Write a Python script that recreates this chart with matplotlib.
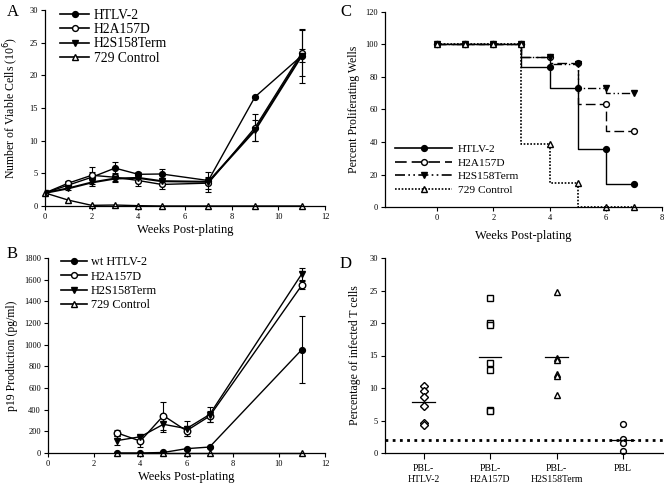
import matplotlib
matplotlib.use("Agg")
import matplotlib.pyplot as plt
from matplotlib.lines import Line2D
import numpy as np

plt.rcParams['font.family'] = ['Liberation Serif', 'DejaVu Serif']

# ---------------- Panel A data ----------------
weeks_a = [0, 1, 2, 3, 4, 5, 7, 9, 11]
a_htlv2 = [2.0, 3.2, 4.4, 5.8, 4.85, 4.9, 3.9, 16.7, 23.0]
a_htlv2_err = [0, 0.3, 0.8, 0.9, 0.4, 0.7, 0.4, 0.2, 4.1]
a_h2a = [2.0, 3.5, 4.7, 4.4, 3.9, 3.3, 3.5, 12.0, 23.4]
a_h2a_err = [0, 0.3, 1.3, 0.6, 0.9, 0.7, 0.9, 2.1, 3.5]
a_h2s = [2.0, 2.7, 3.6, 4.2, 4.3, 3.8, 3.7, 11.6, 23.0]
a_h2s_err = [0, 0.3, 0.5, 0.6, 0.5, 0.5, 1.5, 1.6, 1.0]
a_ctrl = [2.0, 0.9, 0.1, 0.15, 0.05, 0.0, 0.0, 0.0, 0.0]

# ---------------- Panel B data ----------------
weeks_b = [3, 4, 5, 6, 7, 11]
b_htlv2 = [0, 0, 5, 40, 55, 955]
b_htlv2_err = [0, 0, 5, 10, 10, 310]
b_h2a = [185, 110, 345, 205, 340, 1550]
b_h2a_err = [25, 50, 130, 45, 50, 40]
b_h2s = [115, 150, 265, 225, 355, 1655]
b_h2s_err = [40, 20, 70, 70, 70, 55]
b_ctrl = [0, 0, 0, 0, 0, 0]

# ---------------- Panel C data ----------------
weeks_c = [0, 1, 2, 3, 4, 5, 6, 7]
c_htlv2 = [100, 100, 100, 100, 86, 73, 36, 14]
c_h2a = [100, 100, 100, 100, 92.6, 88.5, 63.5, 47]
c_h2s = [100, 100, 100, 100, 92, 88, 73.5, 70]
c_ctrl = [100, 100, 100, 100, 39, 14.7, 0, 0]

# ---------------- Panel D data ----------------
d_categories = ["PBL-\nHTLV-2", "PBL-\nH2A157D", "PBL-\nH2S158Term", "PBL"]
d_htlv2 = [10.3, 9.5, 8.6, 7.2, 4.6, 4.3]
d_h2a = [23.9, 20.05, 19.7, 13.9, 12.7, 6.6, 6.4]
d_h2s = [24.7, 14.6, 14.3, 12.2, 11.8, 9.0]
d_pbl = [4.4, 2.2, 1.6, 0.3]
d_means = [7.9, 14.8, 14.7, 2.0]
d_cutoff = 2.0

fig = plt.figure(figsize=(6.64, 4.84), dpi=100)
W, H = 664, 484

def add_ax(l, r, t, b):
    return fig.add_axes([l / W, 1 - b / H, (r - l) / W, (b - t) / H])

def style(ax):
    for s in ['top', 'right']:
        ax.spines[s].set_visible(False)
    ax.tick_params(direction='out', length=3, width=0.8, labelsize=6, pad=2)
    for s in ['left', 'bottom']:
        ax.spines[s].set_linewidth(0.9)

lw = 1.0
ms = 4.2
eb = dict(capsize=2.5, elinewidth=0.8, capthick=0.8)

def leg_handles(labels, styles):
    hs = []
    for lab, (mk, mfc, ls) in zip(labels, styles):
        hs.append(Line2D([], [], color='k', lw=1.2, ls=ls, marker=mk, ms=ms, mfc=mfc, label=lab))
    return hs

# ---- A ----
axA = add_ax(45, 325, 10, 206)
style(axA)
axA.errorbar(weeks_a, a_htlv2, yerr=a_htlv2_err, color='k', marker='o', ms=ms, mfc='k', lw=lw, **eb)
axA.errorbar(weeks_a, a_h2a, yerr=a_h2a_err, color='k', marker='o', ms=ms, mfc='white', lw=lw, **eb)
axA.errorbar(weeks_a, a_h2s, yerr=a_h2s_err, color='k', marker='v', ms=ms, mfc='k', lw=lw * 1.5, **eb)
axA.plot(weeks_a, a_ctrl, color='k', marker='^', ms=ms + 0.5, mfc='white', lw=lw, clip_on=False)
axA.set_xlim(0, 12)
axA.set_ylim(0, 30)
axA.set_xticks(range(0, 13, 2))
axA.set_yticks(range(0, 31, 5))
axA.set_xlabel('Weeks Post-plating', fontsize=9, labelpad=2)
axA.set_ylabel('Number of Viable Cells (10$^6$)', fontsize=8.5, labelpad=6)
axA.legend(handles=leg_handles(['HTLV-2', 'H2A157D', 'H2S158Term', '729 Control'],
                               [('o', 'k', '-'), ('o', 'white', '-'), ('v', 'k', '-'), ('^', 'white', '-')]),
           loc='upper left', bbox_to_anchor=(0.035, 1.035), frameon=False, fontsize=9.8,
           handlelength=2.1, handletextpad=0.35, labelspacing=0.1, borderaxespad=0)

# ---- B ----
axB = add_ax(48, 325, 258, 453)
style(axB)
axB.errorbar(weeks_b, b_htlv2, yerr=b_htlv2_err, color='k', marker='o', ms=ms, mfc='k', lw=lw, **eb)
axB.errorbar(weeks_b, b_h2a, yerr=b_h2a_err, color='k', marker='o', ms=ms + 0.5, mfc='white', lw=lw, **eb)
axB.errorbar(weeks_b, b_h2s, yerr=b_h2s_err, color='k', marker='v', ms=ms, mfc='k', lw=lw, **eb)
axB.plot(weeks_b, b_ctrl, color='k', marker='^', ms=ms + 0.5, mfc='white', lw=lw, clip_on=False)
axB.set_xlim(0, 12)
axB.set_ylim(0, 1800)
axB.set_xticks(range(0, 13, 2))
axB.set_yticks(range(0, 1801, 200))
axB.set_xlabel('Weeks Post-plating', fontsize=9, labelpad=2)
axB.set_ylabel('p19 Production (pg/ml)', fontsize=8.5, labelpad=4)
axB.legend(handles=leg_handles(['wt HTLV-2', 'H2A157D', 'H2S158Term', '729 Control'],
                               [('o', 'k', '-'), ('o', 'white', '-'), ('v', 'k', '-'), ('^', 'white', '-')]),
           loc='upper left', bbox_to_anchor=(0.03, 1.035), frameon=False, fontsize=8.8,
           handlelength=2.1, handletextpad=0.35, labelspacing=0.2, borderaxespad=0)

# ---- C ----
axC = add_ax(385, 662, 12, 207)
style(axC)
c_styles = ['-', (0, (7, 3)), (0, (6, 2, 1, 2, 1, 2)), (0, (1, 1))]
axC.plot(weeks_c, c_htlv2, drawstyle='steps-pre', color='k', lw=lw, ls=c_styles[0], marker='o', ms=ms, mfc='k', clip_on=False)
axC.plot(weeks_c, c_h2a, drawstyle='steps-pre', color='k', lw=lw, ls=c_styles[1], marker='o', ms=ms, mfc='white', clip_on=False)
axC.plot(weeks_c, c_h2s, drawstyle='steps-pre', color='k', lw=lw, ls=c_styles[2], marker='v', ms=ms, mfc='k', clip_on=False)
axC.plot(weeks_c, c_ctrl, drawstyle='steps-pre', color='k', lw=lw * 1.2, ls=c_styles[3], marker='^', ms=ms, mfc='white', clip_on=False)
axC.set_xlim(-1.85, 8)
axC.set_ylim(0, 120)
axC.set_xticks(range(0, 9, 2))
axC.set_yticks(range(0, 121, 20))
axC.set_xlabel('Weeks Post-plating', fontsize=9, labelpad=6)
axC.set_ylabel('Percent Proliferating Wells', fontsize=8.5, labelpad=4)
axC.legend(handles=leg_handles(['HTLV-2', 'H2A157D', 'H2S158Term', '729 Control'],
                               [('o', 'k', c_styles[0]), ('o', 'white', c_styles[1]),
                                ('v', 'k', c_styles[2]), ('^', 'white', c_styles[3])]),
           loc='lower left', bbox_to_anchor=(0.02, 0.04), frameon=False, fontsize=8.2,
           handlelength=5.0, handletextpad=0.5, labelspacing=0.3, borderaxespad=0)

# ---- D ----
axD = add_ax(385, 663, 258, 453)
style(axD)
groups = [(d_htlv2, 'D', 3.8), (d_h2a, 's', 4.2), (d_h2s, '^', 4.8), (d_pbl, 'o', 4.2)]
for i, (vals, mk, sz) in enumerate(groups):
    axD.plot([i] * len(vals), vals, ls='none', marker=mk, ms=sz,
             mfc='white', mec='k', mew=1.0, clip_on=False)
    axD.plot([i - 0.17, i + 0.17], [d_means[i], d_means[i]], color='k', lw=0.9)
axD.axhline(d_cutoff, color='k', ls=(0, (1, 1.6)), lw=2.0)
axD.set_xlim(-0.58, 3.6)
axD.set_ylim(0, 30)
axD.set_xticks(range(len(d_categories)))
axD.set_xticklabels(d_categories, fontsize=7)
axD.set_yticks(range(0, 31, 5))
axD.set_ylabel('Percentage of infected T cells', fontsize=8.5, labelpad=6)
axD.tick_params(axis='x', length=4, pad=4)

# panel letters
for letter, (x, y) in zip('ACBD', [(7, 4), (340, 4), (7, 246), (340, 256)]):
    fig.text(x / W, 1 - y / H, letter, fontsize=12, va='top', ha='left')

fig.savefig('out.png', dpi=100)
